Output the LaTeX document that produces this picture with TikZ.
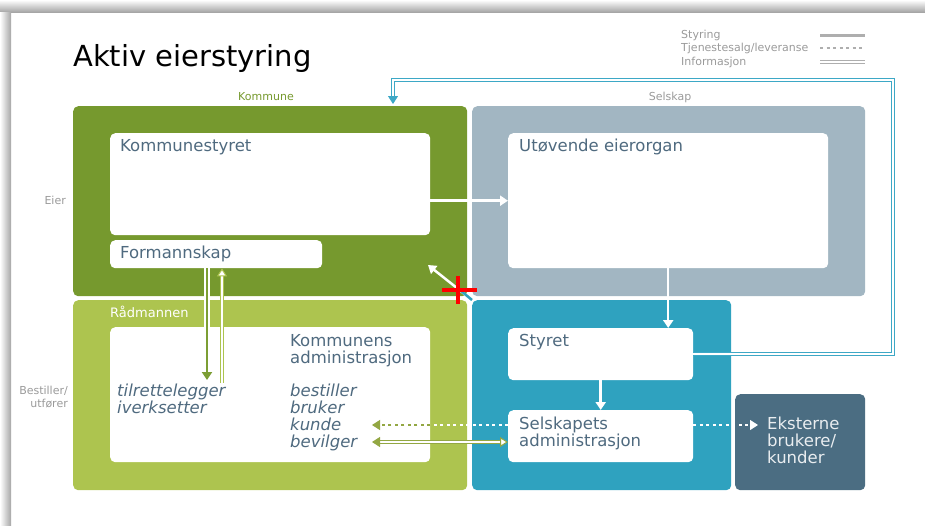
\documentclass[tikz,border=0pt]{standalone}
\usepackage{fontspec}
\setmainfont{DejaVu Sans}
\usetikzlibrary{arrows.meta,positioning}

\definecolor{kgreen}{HTML}{76992E}
\definecolor{lgreen}{HTML}{ADC44F}
\definecolor{sgrey}{HTML}{A2B6C2}
\definecolor{steal}{HTML}{2FA2BF}
\definecolor{eslate}{HTML}{4B6D82}
\definecolor{txtblue}{HTML}{4F6A7F}
\definecolor{lblgrey}{HTML}{9A9A9A}
\definecolor{agreen}{HTML}{8AB03A}
\definecolor{loopteal}{HTML}{3DA8C6}

\tikzset{
  area/.style={rectangle, rounded corners=5pt, inner sep=0, anchor=north west},
  innerbox/.style={area, fill=white},
  boxtxt/.style={anchor=base west, inner sep=0, align=left, text=txtblue,
    font=\fontsize{16.5}{17}\selectfont},
  sidelbl/.style={inner sep=0, text=lblgrey, font=\fontsize{11}{13}\selectfont},
  tipp/.style={-{Triangle[length=8pt,width=10pt]}},
  styring/.style={line width=2.5pt, tipp},
  salg/.style={line width=2.5pt, dash pattern=on 3pt off 3.5pt},
  informasjon/.style={double, double distance=1.5pt, line width=1pt},
}

\begin{document}
\begin{tikzpicture}[x=1pt,y=-1pt]
    \useasboundingbox (0,0) rectangle (925,525);
    % Skygge rundt siden
    \shade[top color=white, bottom color=black!35] (0,0) rectangle (925,12);
    \shade[left color=white, right color=black!35] (0,12) rectangle (11,525);

    % Tittel
    \node[anchor=base west, inner sep=0, font=\fontsize{29}{30}\selectfont] (tittel) at (73,66) {Aktiv eierstyring};

    % Tegnforklaring
    \node[sidelbl, anchor=west] (lstyr) at (681,35) {Styring};
    \node[sidelbl, anchor=west] (lsalg) at (681,48) {Tjenestesalg/leveranse};
    \node[sidelbl, anchor=west] (linfo) at (681,62) {Informasjon};
    \draw[lblgrey!80, line width=3pt] (820,35) -- (865,35);
    \draw[lblgrey!80, salg] (820,48) -- (865,48);
    \draw[lblgrey!80, informasjon] (820,62) -- (865,62);

    % Omraader
    \node[area, fill=kgreen, minimum width=394, minimum height=190] (kommune) at (73,106) {};
    \node[area, fill=sgrey, minimum width=393, minimum height=190] (selskap) at (472,106) {};
    \node[area, fill=lgreen, minimum width=394, minimum height=190] (raadmann) at (73,300) {};
    \node[area, fill=steal, minimum width=259, minimum height=190] (drift) at (472,300) {};
    \node[area, fill=eslate, minimum width=130, minimum height=96] (eksterne) at (735,394) {};

    % Etiketter
    \node[sidelbl, text=kgreen] (kommunelbl) at (266,97) {Kommune};
    \node[sidelbl] (selskaplbl) at (670,97) {Selskap};
    \node[sidelbl, anchor=east, align=right] (eierlbl) at (66,200) {Eier};
    \node[sidelbl, anchor=east, align=right] (bestlbl) at (68,397) {Bestiller/\\utfører};
    \node[anchor=base west, inner sep=0, text=white, font=\fontsize{13}{15}\selectfont] (raadlbl) at (110,317) {Rådmannen};

    % Hvite bokser
    \node[innerbox, minimum width=320, minimum height=102] (kstyret) at (110,133) {};
    \node[innerbox, minimum width=212, minimum height=28] (formannskap) at (110,240) {};
    \node[innerbox, minimum width=320, minimum height=135] (eierorgan) at (508,133) {};
    \node[innerbox, minimum width=320, minimum height=135] (kadm) at (110,327) {};
    \node[innerbox, minimum width=185, minimum height=52] (styret) at (508,328) {};
    \node[innerbox, minimum width=185, minimum height=52] (sadm) at (508,410) {};

    % Tekst i boksene (grunnlinje = siste linje)
    \node[boxtxt] (kstyrettxt) at (120,151) {Kommunestyret};
    \node[boxtxt] (formtxt) at (120,258) {Formannskap};
    \node[boxtxt] (eierorgantxt) at (519,151) {Utøvende eierorgan};
    \node[boxtxt] (kadmtxt) at (290,363) {Kommunens\\administrasjon};
    \node[boxtxt, font=\fontsize{16.5}{17}\selectfont\itshape] (tilrett) at (117,413) {tilrettelegger\\iverksetter};
    \node[boxtxt, font=\fontsize{16.5}{17}\selectfont\itshape] (bestiller) at (290,396) {bestiller};
    \node[boxtxt, font=\fontsize{16.5}{17}\selectfont\itshape] (bruker) at (290,413) {bruker};
    \node[boxtxt, font=\fontsize{16.5}{17}\selectfont\itshape] (kunde) at (290,430) {kunde};
    \node[boxtxt, font=\fontsize{16.5}{17}\selectfont\itshape] (bevilger) at (290,447) {bevilger};
    \node[boxtxt] (styrettxt) at (519,346) {Styret};
    \node[boxtxt] (sadmtxt) at (519,446) {Selskapets\\administrasjon};
    \node[boxtxt, text=white!88!eslate] (eksternetxt) at (767,463) {Eksterne\\brukere/\\kunder};

    % Piler
    \coordinate (ned) at (207,380);
    \coordinate (opp) at (222,383);
    \coordinate (skraa) at (428,265);
    \coordinate (inn) at (393,104);
    \coordinate (salgv) at (508,425);
    \coordinate (kundepil) at (372,425);
    \coordinate (bevpil) at (372,442);
    \coordinate (ut) at (758,425);

    \draw[styring, white] (kstyret.east |- eierorgan.west) -- (eierorgan.west);
    \draw[styring, white] (eierorgan.south) -- (eierorgan.south |- styret.north);
    \draw[styring, white] (styret.south) -- (sadm.north);
    \draw[white, line width=5.5pt] (formannskap.south -| ned) -- ([yshift=8pt]ned);
    \draw[styring, agreen!90!black] (formannskap.south -| ned) -- (ned);
    \draw[informasjon, lgreen, -{Triangle[length=8pt,width=10pt,fill=white]}] (opp) -- (opp |- formannskap.south);
    \draw[styring, white] (drift.north west) -- (skraa);
    \draw[steal, line width=2.5pt] (drift.north west) -- ++(-12,-10);
    \draw[informasjon, loopteal, tipp] (styret.east) -| (893,80) -| (inn);

    % Tjenestesalg og informasjon
    \draw[salg, white] (salgv) -- (salgv -| kadm.east);
    \draw[salg, lgreen!85!black] (salgv -| kadm.east) -- ([xshift=6pt]kundepil);
    \draw[lgreen!85!black, line width=1pt, tipp] ([xshift=4pt]kundepil) -- (kundepil);
    \draw[informasjon, lgreen!85!black, {Triangle[length=8pt,width=10pt]}-{Triangle[length=8pt,width=10pt,fill=white]}] (bevpil) -- (bevpil -| sadm.west);
    \draw[salg, white] (salgv -| sadm.east) -- ([xshift=-8pt]ut);
    \draw[white, line width=1pt, tipp] ([xshift=-4pt]ut) -- (ut);

    % Markering
    \draw[red, line width=3.5pt] (442,290) -- (477,290) (458,276) -- (458,304);
\end{tikzpicture}
\end{document}
